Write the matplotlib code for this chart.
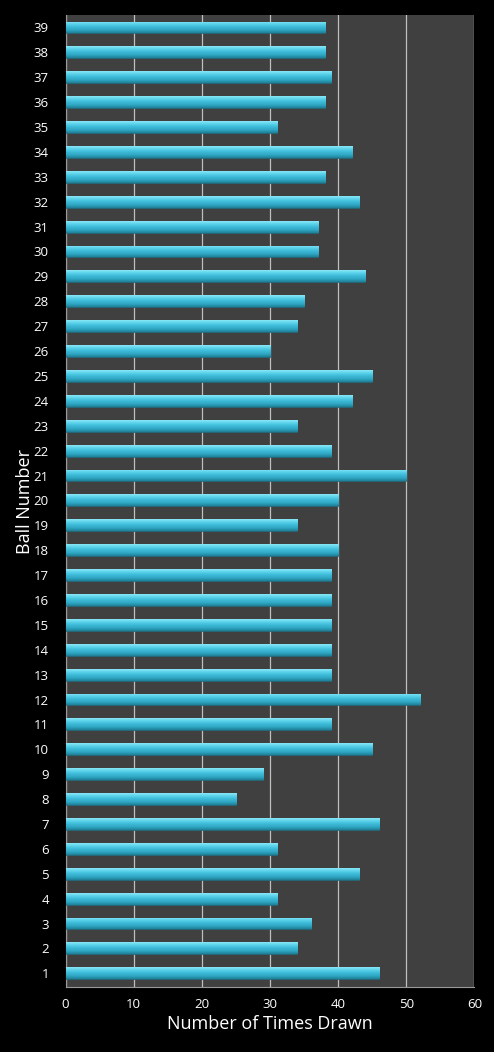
import matplotlib
matplotlib.use("Agg")
import matplotlib.pyplot as plt
import numpy as np
from matplotlib.colors import LinearSegmentedColormap

balls = list(range(1, 40))
counts = [46, 34, 36, 31, 43, 31, 46, 25, 29, 45,
          39, 52, 39, 39, 39, 39, 39, 40, 34, 40,
          50, 39, 34, 42, 45, 30, 34, 35, 44, 37,
          37, 43, 38, 42, 31, 38, 39, 38, 38]
xticks = [0, 10, 20, 30, 40, 50, 60]

plt.rcParams['font.family'] = ['Open Sans', 'DejaVu Sans']

fig = plt.figure(figsize=(4.94, 10.52), dpi=100, facecolor='black')
ax = fig.add_axes([0.1326, 0.0618, 0.8279, 0.9239])
ax.set_facecolor('#404040')

cmap = LinearSegmentedColormap.from_list(
    'bar', [(0.0, '#1f7f96'), (0.25, '#2fa6c2'), (0.55, '#40bedb'),
            (0.8, '#62d6ee'), (1.0, '#8ae6f7')])
grad = np.linspace(0, 1, 64).reshape(-1, 1)

h = 0.48
bars = ax.barh(balls, counts, height=h, color='#3db8d4', edgecolor='#1a5f70',
               linewidth=0.5, zorder=3)
ax.set_xlim(0, 60)
ax.set_ylim(0.45, 39.5)
for p in bars.patches:
    x0, y0 = p.get_x(), p.get_y()
    w, hh = p.get_width(), p.get_height()
    im = ax.imshow(grad, cmap=cmap, aspect='auto', origin='lower',
                   extent=[x0, x0 + w, y0, y0 + hh], zorder=4)
    im.set_clip_path(p)
ax.set_xlim(0, 60)
ax.set_ylim(0.45, 39.5)

ax.set_xticks(xticks)
ax.set_yticks(balls)
ax.xaxis.grid(True, color='#bfbfbf', linewidth=0.9, zorder=1)
ax.set_axisbelow(True)
for s in ['top', 'right']:
    ax.spines[s].set_visible(False)
for s in ['left', 'bottom']:
    ax.spines[s].set_color('#9a9a9a')
ax.tick_params(axis='both', colors='white', labelsize=9.5, length=0)
ax.tick_params(axis='x', pad=8)
ax.tick_params(axis='y', pad=12)
ax.set_xlabel('Number of Times Drawn', color='white', fontsize=13, labelpad=3)
ax.set_ylabel('Ball Number', color='white', fontsize=13, labelpad=0)

fig.savefig('out.png', dpi=100, facecolor='black')
